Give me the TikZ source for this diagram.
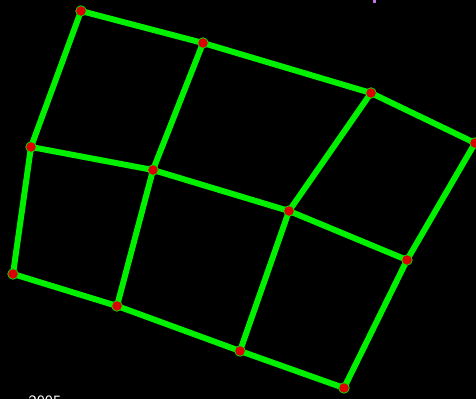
\documentclass[tikz,border=0pt]{standalone}
\usepackage{tkz-euclide}
\definecolor{gridgreen}{RGB}{0,240,0}
\definecolor{dotred}{RGB}{220,0,0}
\definecolor{markviolet}{RGB}{190,120,230}

\begin{document}
\begin{tikzpicture}
\fill[black] (0,0) rectangle (9.52,7.98);
\useasboundingbox (0,0) rectangle (9.52,7.98);
\tkzSetUpLine[line width=3.4pt,color=gridgreen]
\tkzSetUpPoint[fill=dotred,color=gridgreen,line width=1.1pt]

\tkzDefPoints{1.62/7.76/A,4.06/7.12/B,7.42/6.12/C,9.50/5.12/D}
\tkzDefPoints{0.62/5.04/E,3.06/4.58/F,5.78/3.76/G,8.14/2.78/H}
\tkzDefPoints{0.26/2.50/I,2.34/1.86/J,4.80/0.96/K,6.88/0.22/L}

% rows
\tkzDrawSegments(A,B B,C C,D E,F F,G G,H I,J J,K K,L)
% columns
\tkzDrawSegments(A,E E,I B,F F,J C,G G,K D,H H,L)

\tkzDrawPoints[size=6](A,B,C,D,E,F,G,H,I,J,K,L)

\fill[markviolet] (7.46,7.92) rectangle (7.52,7.98);
\node[anchor=north,inner sep=0pt,text=white,font=\sffamily\small] (year) at (0.9,0.08) {2005};
\end{tikzpicture}
\end{document}
